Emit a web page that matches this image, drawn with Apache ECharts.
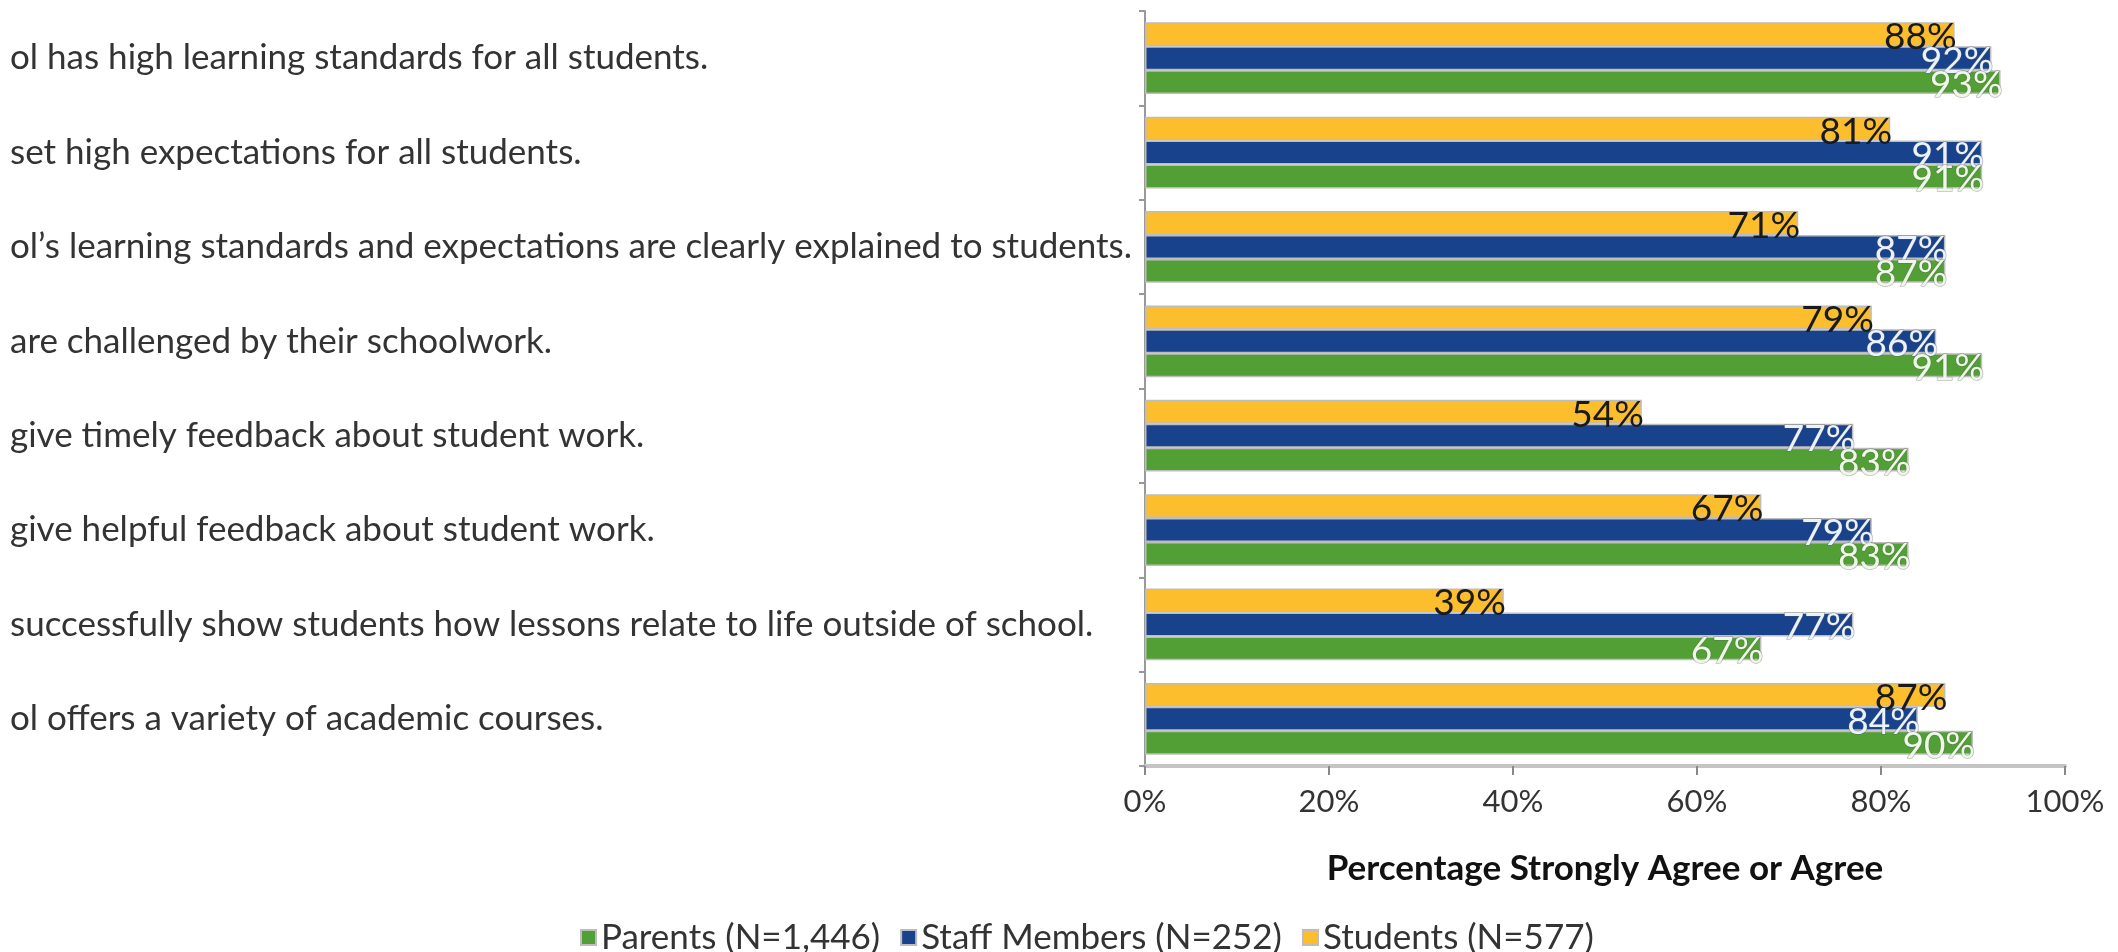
<!DOCTYPE html>
<html>
<head>
<meta charset="utf-8">
<script src="https://cdn.jsdelivr.net/npm/echarts@6/dist/echarts.min.js"></script>
<style>
html,body{margin:0;padding:0;background:#fff;}
#chart{width:2118px;height:952px;}
</style>
</head>
<body>
<div id="chart"></div>
<script>
// Categories listed top to bottom as they appear
const categories = [
  "ol has high learning standards for all students.",
  "set high expectations for all students.",
  "ol\u2019s learning standards and expectations are clearly explained to students.",
  "are challenged by their schoolwork.",
  "give timely feedback about student work.",
  "give helpful feedback about student work.",
  "successfully show students how lessons relate to life outside of school.",
  "ol offers a variety of academic courses."
];
const parents  = [93, 91, 87, 91, 83, 83, 67, 90];
const staff    = [92, 91, 87, 86, 77, 79, 77, 84];
const students = [88, 81, 71, 79, 54, 67, 39, 87];
const seriesNames = ["Parents (N=1,446)", "Staff Members (N=252)", "Students (N=577)"];
const xTicks = [0, 20, 40, 60, 80, 100];
const axisTitle = "Percentage Strongly Agree or Agree";

const FONT = 'Lato';
const rev = a => a.slice().reverse();

const chart = echarts.init(document.getElementById('chart'), null, {renderer: 'canvas'});

function labelCfg(color, halo) {
  const cfg = {
    show: true,
    position: 'insideRight',
    distance: 0,
    offset: [2, 3],
    formatter: p => p.value + '%',
    fontFamily: FONT,
    fontSize: 37,
    color: color
  };
  if (halo) {
    cfg.textBorderColor = 'rgba(90,90,90,0.4)';
    cfg.textBorderWidth = 1.5;
  }
  return cfg;
}

const colors = ['#52A035', '#18428C', '#FDBE2E'];
const labelColors = ['#eef8e6', '#eaf2ff', '#1a1a1a'];
const labelHalo = [true, true, false];
const dataSets = [parents, staff, students];
// draw order within a group: top = students, then staff, bottom = parents
const drawOrder = [2, 1, 0];

chart.setOption({
  animation: false,
  grid: {left: 1145, right: 53, top: 11, bottom: 186, containLabel: false},
  legend: {
    data: seriesNames,
    left: 575,
    top: 915,
    itemWidth: 15,
    itemHeight: 15,
    itemGap: 20,
    icon: 'rect',
    textStyle: {fontFamily: FONT, fontSize: 35, color: '#333'}
  },
  xAxis: {
    type: 'value',
    min: xTicks[0],
    max: xTicks[xTicks.length - 1],
    interval: xTicks[1] - xTicks[0],
    name: axisTitle,
    nameLocation: 'middle',
    nameGap: 85,
    nameTextStyle: {fontFamily: FONT, fontSize: 35, fontWeight: 'bold', color: '#111'},
    axisLine: {show: true, lineStyle: {color: '#c4c4c4', width: 4}},
    axisTick: {show: true, length: 9, lineStyle: {color: '#888', width: 2}},
    splitLine: {show: false},
    axisLabel: {formatter: '{value}%', fontFamily: FONT, fontSize: 31, color: '#333', margin: 20}
  },
  yAxis: {
    type: 'category',
    data: rev(categories),
    axisLine: {show: true, lineStyle: {color: '#999', width: 2}},
    axisTick: {show: true, length: 6, lineStyle: {color: '#999', width: 2}},
    axisLabel: {align: 'left', margin: 1135, fontFamily: FONT, fontSize: 35, color: '#333'}
  },
  series: drawOrder.map(i => ({
    name: seriesNames[i],
    type: 'bar',
    data: rev(dataSets[i]),
    barGap: '0%',
    barCategoryGap: '24%',
    itemStyle: {color: colors[i], borderColor: '#bdbdbd', borderWidth: 1.5},
    label: labelCfg(labelColors[i], labelHalo[i])
  }))
});
</script>
</body>
</html>
